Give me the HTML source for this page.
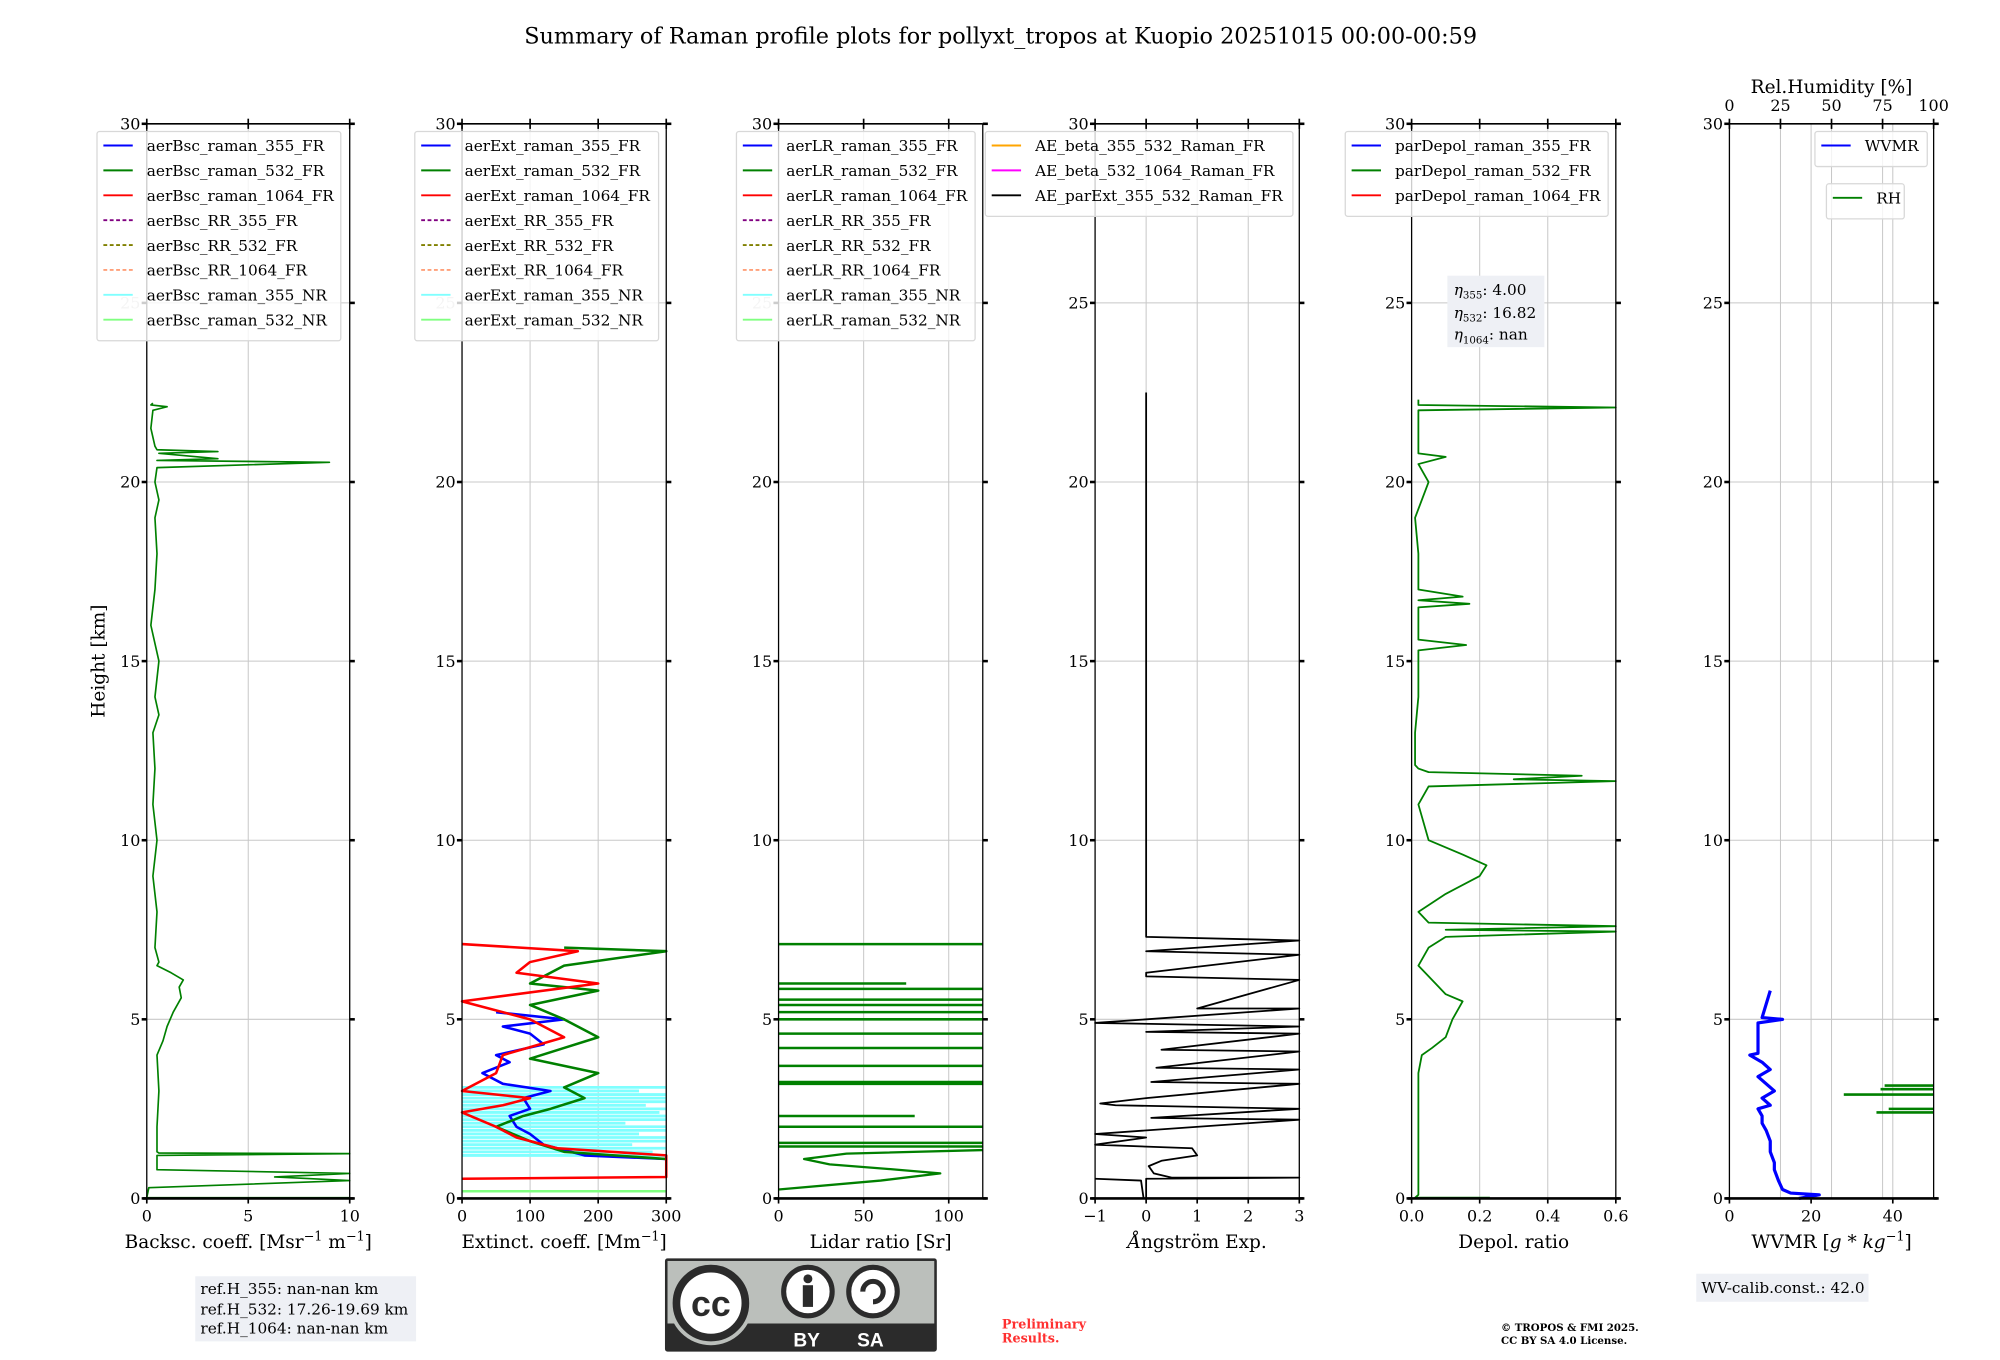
<!DOCTYPE html>
<html><head><meta charset="utf-8"><style>
html,body{margin:0;padding:0;background:#fff;}
svg{display:block;font-family:"DejaVu Serif","Liberation Serif",serif;}
</style></head><body>
<svg id="fig" width="2000" height="1360" viewBox="0 0 1567 1065.6" preserveAspectRatio="none" xmlns="http://www.w3.org/2000/svg">
<rect width="1567" height="1066" fill="#fff"/>
<text x="784" y="34" font-size="17.5" text-anchor="middle">Summary of Raman profile plots for pollyxt_tropos at Kuopio 20251015 00:00-00:59</text>
<text x="0" y="0" font-size="14.5" text-anchor="middle" transform="translate(82,518) rotate(-90)">Height [km]</text>
<g id="plots"></g>
<rect x="1134" y="216" width="76" height="56" fill="#eef0f5"/>
<text x="1139" y="231" font-size="12"><tspan font-style="italic">η</tspan><tspan font-size="8" dy="3">355</tspan><tspan dy="-3">: 4.00</tspan></text>
<text x="1139" y="249" font-size="12"><tspan font-style="italic">η</tspan><tspan font-size="8" dy="3">532</tspan><tspan dy="-3">: 16.82</tspan></text>
<text x="1139" y="266" font-size="12"><tspan font-style="italic">η</tspan><tspan font-size="8" dy="3">1064</tspan><tspan dy="-3">: nan</tspan></text>
<rect x="153" y="1000" width="173" height="51" fill="#eef0f5"/>
<text x="157" y="1014" font-size="12">ref.H_355: nan-nan km</text>
<text x="157" y="1030" font-size="12">ref.H_532: 17.26-19.69 km</text>
<text x="157" y="1045" font-size="12">ref.H_1064: nan-nan km</text>
<rect x="1329" y="998" width="135" height="22" fill="#eef0f5"/>
<text x="1333" y="1013" font-size="12">WV-calib.const.: 42.0</text>
<g>
<rect x="521" y="986" width="213" height="73" rx="2" fill="#2b2b2b"/>
<rect x="523" y="988" width="209" height="49" fill="#bbbfbb"/>
<circle cx="557" cy="1021" r="33" fill="#bbbfbb"/>
<circle cx="557" cy="1021" r="27" fill="#fff" stroke="#2b2b2b" stroke-width="6"/>
<text x="557" y="1031" font-size="28" font-weight="bold" text-anchor="middle" font-family="Liberation Sans,sans-serif" fill="#2b2b2b">cc</text>
<circle cx="633" cy="1012" r="19" fill="#fff" stroke="#2b2b2b" stroke-width="4"/>
<circle cx="633" cy="1002" r="3.5" fill="#2b2b2b"/>
<rect x="629" y="1007" width="8" height="17" fill="#2b2b2b"/>
<circle cx="684" cy="1012" r="19" fill="#fff" stroke="#2b2b2b" stroke-width="4"/>
<path d="M676 1012 A8 8 0 1 1 684 1020" fill="none" stroke="#2b2b2b" stroke-width="4"/>
<text x="632" y="1055" font-size="15" font-weight="bold" text-anchor="middle" font-family="Liberation Sans,sans-serif" fill="#fff">BY</text>
<text x="682" y="1055" font-size="15" font-weight="bold" text-anchor="middle" font-family="Liberation Sans,sans-serif" fill="#fff">SA</text>
</g>
<text x="785" y="1041" font-size="10" font-weight="bold" fill="#ff3030">Preliminary</text>
<text x="785" y="1052" font-size="10" font-weight="bold" fill="#ff3030">Results.</text>
<text x="1176" y="1043" font-size="8" font-weight="bold">© TROPOS &amp; FMI 2025.</text>
<text x="1176" y="1053" font-size="8" font-weight="bold">CC BY SA 4.0 License.</text>
</svg>
<script>
// ---- data ----
const heightTicks = [0,5,10,15,20,25,30];
const bscTicks = [0,5,10];
const extTicks = [0,100,200,300];
const lrTicks = [0,50,100];
const aeTicks = [-1,0,1,2,3];
const depTicks = [0.0,0.2,0.4,0.6];
const depTickLabels = ["0.0","0.2","0.4","0.6"];
const wvTicks = [0,20,40];
const rhTicks = [0,25,50,75,100];

const bsc532H = [0.02,0.02,0.3,0.5,0.6,0.7,0.8,1.2,1.25,1.27,1.3,2,3,4,4.4,4.8,5.2,5.6,5.9,6.1,6.3,6.5,6.6,7,8,9,10,11,12,13,13.5,14,15,16,17,18,19,19.5,20,20.4,20.55,20.6,20.65,20.8,20.85,20.9,21,21.5,22,22.1,22.15,22.2];
const bsc532V = [10,0,0.1,10,6.3,10,0.5,0.5,10,0.6,0.5,0.5,0.6,0.5,0.8,1.0,1.3,1.7,1.6,1.8,1.2,0.5,0.6,0.4,0.5,0.3,0.5,0.3,0.4,0.3,0.6,0.4,0.6,0.2,0.4,0.5,0.4,0.6,0.4,0.5,9.0,0.5,3.5,0.6,3.5,0.5,0.4,0.2,0.3,1.0,0.2,0.3];

const ext355H = [1.1,1.2,1.5,1.8,2.0,2.3,2.5,2.8,3.0,3.2,3.5,3.8,4.0,4.3,4.6,4.8,5.0,5.2];
const ext355V = [300,180,120,100,80,70,100,90,130,60,30,70,50,120,100,60,150,50];
const ext532H = [1.1,1.3,1.6,2.0,2.3,2.5,2.8,3.1,3.5,3.9,4.2,4.5,5.0,5.4,5.8,6.0,6.5,6.9,7.0];
const ext532V = [300,150,100,50,90,130,180,150,200,100,150,200,150,100,200,100,150,300,150];
const ext1064H = [0.55,0.6,1.2,1.4,1.7,2.0,2.4,2.6,2.8,3.0,3.5,4.0,4.5,5.0,5.5,6.0,6.3,6.6,6.9,7.1];
const ext1064V = [0,300,300,140,80,50,0,60,100,0,50,60,150,100,0,200,80,100,170,0];
const ext355NRH = [1.2,1.3,1.4,1.5,1.6,1.7,1.8,1.9,2.0,2.1,2.2,2.3,2.4,2.5,2.6,2.7,2.8,2.9,3.0,3.1];
const ext355NRV = [300,280,300,250,300,300,260,300,300,240,300,300,290,300,270,300,300,300,260,300];
const ext532NRH = [0.2];
const ext532NRV = [300];

const lrCurveH = [0.25,0.5,0.7,0.8,0.95,1.1,1.25,1.35];
const lrCurveV = [0,60,95,70,30,15,40,120];
const lrSpikeH = [1.45,1.55,2.0,2.3,3.2,3.25,3.7,4.2,4.6,5.0,5.2,5.4,5.55,5.85,6.0,7.1];
const lrSpikeV = [120,120,120,80,120,120,120,120,120,120,120,120,120,120,75,120];

const aeH = [0,0.55,0.58,0.58,0.7,0.9,1.05,1.2,1.4,1.5,1.7,1.8,2.2,2.25,2.5,2.6,2.65,2.75,2.8,3.2,3.25,3.6,3.65,4.1,4.15,4.6,4.65,4.8,4.9,5.3,5.3,6.1,6.2,6.3,6.8,6.9,7.2,7.3,22.5];
const aeV = [0,0,3,0.5,0.15,0.05,0.3,1.0,0.9,-1,0,-1,3,0.1,3,-0.6,-0.9,-0.3,0,3,0.1,3,0.2,3,0.3,3,0,3,-1,3,1,3,0,0,3,0,3,0,0];
const aeLowH = [0.55,0.5,0];
const aeLowV = [-1,-0.1,-0.05];

const depH = [0.02,0.02,0.1,1,2,3,3.5,4.0,4.2,4.5,5.0,5.5,5.7,6.0,6.5,7.0,7.3,7.45,7.5,7.6,7.7,8.0,8.5,9.0,9.3,9.6,10,11,11.5,11.65,11.7,11.8,11.9,12,12.1,13,14,15.3,15.45,15.6,16.5,16.6,16.7,16.8,17,18,19,20,20.5,20.7,20.8,21,22.0,22.08,22.15,22.3];
const depV = [0.23,0.01,0.02,0.02,0.02,0.02,0.02,0.03,0.06,0.1,0.12,0.15,0.1,0.07,0.02,0.05,0.1,0.6,0.1,0.6,0.05,0.02,0.1,0.2,0.22,0.15,0.05,0.02,0.05,0.6,0.3,0.5,0.05,0.02,0.01,0.01,0.02,0.02,0.16,0.02,0.02,0.17,0.02,0.15,0.02,0.02,0.01,0.05,0.02,0.1,0.02,0.02,0.02,0.6,0.02,0.02];

const wvH = [0.0,0.1,0.15,0.25,0.5,0.8,1.0,1.3,1.6,1.9,2.1,2.3,2.5,2.6,2.8,3.0,3.2,3.4,3.6,3.8,4.0,4.05,4.9,5.0,5.05,5.8];
const wvV = [17,22,15,13,12,11,11,10,10,9,8,8,7,10,8,11,9,7,10,8,5,7,7,13,8,10];
const rhH = [2.4,2.45,2.5,2.55,2.9,3.0,3.05,3.1,3.15,3.25,3.4];
const rhV = [72,100,78,100,56,100,74,100,76,100,100];

// ---- layout ----
const NS="http://www.w3.org/2000/svg";
const g=document.getElementById('plots');
const Y0=939, KM=(939-97)/30;
function yS(h){return Y0-h*KM;}
function mk(tag,a,parent){const e=document.createElementNS(NS,tag);for(const k in a)e.setAttribute(k,a[k]);(parent||g).appendChild(e);return e;}
const panels=[
 {x0:115,x1:274,min:0,max:10,ticks:bscTicks,labels:bscTicks.map(String),xl:'Backsc. coeff. [Msr<tspan font-size="10" dy="-6">−1</tspan><tspan dy="6"> m</tspan><tspan font-size="10" dy="-6">−1</tspan><tspan dy="6">]</tspan>',name:'backscatter'},
 {x0:362,x1:522,min:0,max:300,ticks:extTicks,labels:extTicks.map(String),xl:'Extinct. coeff. [Mm<tspan font-size="10" dy="-6">−1</tspan><tspan dy="6">]</tspan>',name:'extinction'},
 {x0:610,x1:770,min:0,max:120,ticks:lrTicks,labels:lrTicks.map(String),xl:'Lidar ratio [Sr]',name:'lidar-ratio'},
 {x0:858,x1:1018,min:-1,max:3,ticks:aeTicks,labels:aeTicks.map(v=>v<0?'−'+(-v):String(v)),xl:'<tspan font-style="italic">Å</tspan>ngström Exp.',name:'angstrom'},
 {x0:1106,x1:1266,min:0,max:0.6,ticks:depTicks,labels:depTickLabels,xl:'Depol. ratio',name:'depol'},
 {x0:1355,x1:1515,min:0,max:50,ticks:wvTicks,labels:wvTicks.map(String),xl:'WVMR [<tspan font-style="italic">g</tspan> * <tspan font-style="italic">kg</tspan><tspan font-size="10" dy="-6">−1</tspan><tspan dy="6">]</tspan>',name:'wvmr'}
];
function xS(p,v){return p.x0+(v-p.min)/(p.max-p.min)*(p.x1-p.x0);}
function clipV(p,v){return Math.max(p.min,Math.min(p.max,v));}
function line(p,H,V,color,w,name){
  let d='';for(let i=0;i<H.length;i++){d+=(i?'L':'M')+xS(p,clipV(p,V[i])).toFixed(1)+' '+yS(H[i]).toFixed(1);}
  const e=mk('path',{d:d,fill:'none',stroke:color,'stroke-width':w,'stroke-linejoin':'round'});
  
  
  return e;
}
function hbars(p,H,V,base,color,w,name){
  for(let i=0;i<H.length;i++){
    const e=mk('line',{x1:xS(p,base),x2:xS(p,clipV(p,V[i])),y1:yS(H[i]),y2:yS(H[i]),stroke:color,'stroke-width':w});
    
    
  }
}
panels.forEach((p,pi)=>{
  const ax=mk('g',{});
  
  
  p.ticks.forEach(t=>{mk('line',{x1:xS(p,t),x2:xS(p,t),y1:97,y2:939,stroke:'#c8c8c8','stroke-width':0.8},ax);});
  heightTicks.forEach(h=>{mk('line',{x1:p.x0,x2:p.x1,y1:yS(h),y2:yS(h),stroke:'#c8c8c8','stroke-width':0.8},ax);});
  if(pi==5) rhTicks.forEach(t=>{const x=p.x0+t/100*(p.x1-p.x0);mk('line',{x1:x,x2:x,y1:97,y2:939,stroke:'#c8c8c8','stroke-width':0.8},ax);});
});
const P=panels;
line(P[0],bsc532H,bsc532V,'#008000',1.3,'bsc-532-fr-line');
hbars(P[1],ext355NRH,ext355NRV,0,'#80ffff',2.2,'ext-355-nr-line');
hbars(P[1],ext532NRH,ext532NRV,0,'#80ff80',2,'ext-532-nr-line');
line(P[1],ext355H,ext355V,'#0000ff',2,'ext-355-fr-line');
line(P[1],ext532H,ext532V,'#008000',2,'ext-532-fr-line');
line(P[1],ext1064H,ext1064V,'#ff0000',2,'ext-1064-fr-line');
line(P[2],lrCurveH,lrCurveV,'#008000',1.8,'lr-532-fr-line');
hbars(P[2],lrSpikeH,lrSpikeV,0,'#008000',2,'lr-532-fr-spike');
line(P[3],aeH,aeV,'#000',1.4,'ae-parext-355-532-line');
line(P[3],aeLowH,aeLowV,'#000',1.4,'ae-parext-low-line');
line(P[4],depH,depV,'#008000',1.4,'pardepol-532-line');
line(P[5],wvH,wvV,'#0000ff',2.5,'wvmr-line');
hbars(P[5],rhH,rhV.map(v=>v/2),50,'#008000',2,'rh-line');
panels.forEach((p,pi)=>{
  const s=mk('g',{});
  
  
  mk('line',{x1:p.x0,x2:p.x0,y1:97,y2:939,stroke:'#000','stroke-width':1},s);
  mk('line',{x1:p.x1,x2:p.x1,y1:97,y2:939,stroke:'#000','stroke-width':1},s);
  mk('line',{x1:p.x0,x2:p.x1,y1:97,y2:97,stroke:'#000','stroke-width':1.2},s);
  mk('line',{x1:p.x0-3,x2:p.x1+3,y1:939,y2:939,stroke:'#000','stroke-width':2},s);
  heightTicks.forEach(h=>{
    mk('line',{x1:p.x0-4,x2:p.x0,y1:yS(h),y2:yS(h),stroke:'#000','stroke-width':2},s);
    mk('line',{x1:p.x1,x2:p.x1+4,y1:yS(h),y2:yS(h),stroke:'#000','stroke-width':2},s);
    const t=mk('text',{x:p.x0-5,y:yS(h)+4.5,'font-size':12.5,'text-anchor':'end',fill:(h==25&&pi<3)?'#c8c8c8':'#000'},s);
    t.textContent=String(h);
  });
  const topT = pi==5 ? rhTicks.map(t=>p.x0+t/100*(p.x1-p.x0)) : p.ticks.map(t=>xS(p,t));
  topT.forEach(x=>{mk('line',{x1:x,x2:x,y1:93,y2:101,stroke:'#000','stroke-width':1.3},s);});
  p.ticks.forEach((t,i)=>{
    const x=xS(p,t);
    mk('line',{x1:x,x2:x,y1:939,y2:943,stroke:'#000','stroke-width':1.3},s);
    const tl=mk('text',{x:x,y:957,'font-size':12.5,'text-anchor':'middle'},s);
    tl.textContent=p.labels[i];
  });
  const xl=mk('text',{x:(p.x0+p.x1)/2,y:978,'font-size':14.5,'text-anchor':'middle'},s);
  xl.innerHTML=p.xl;
});
rhTicks.forEach(t=>{
  const x=1355+t/100*160;
  const e=mk('text',{x:x,y:87,'font-size':12.5,'text-anchor':'middle'});
  
  
  e.textContent=String(t);
});
const rht=mk('text',{x:1435,y:73,'font-size':14.5,'text-anchor':'middle'});


rht.textContent='Rel.Humidity [%]';
const legendNames1=['aerBsc_raman_355_FR','aerBsc_raman_532_FR','aerBsc_raman_1064_FR','aerBsc_RR_355_FR','aerBsc_RR_532_FR','aerBsc_RR_1064_FR','aerBsc_raman_355_NR','aerBsc_raman_532_NR'];
const legendNames2=legendNames1.map(s=>s.replace('aerBsc','aerExt'));
const legendNames3=legendNames1.map(s=>s.replace('aerBsc','aerLR'));
const legendColors8=['#0000ff','#008000','#ff0000','#800080','#808000','#ffa07a','#80ffff','#80ff80'];
const legendDash8=[0,0,0,1,1,1,0,0];
const legendNames4=['AE_beta_355_532_Raman_FR','AE_beta_532_1064_Raman_FR','AE_parExt_355_532_Raman_FR'];
const legendColors4=['#ffa500','#ff00ff','#000000'];
const legendNames5=['parDepol_raman_355_FR','parDepol_raman_532_FR','parDepol_raman_1064_FR'];
const legendColors5=['#0000ff','#008000','#ff0000'];
function legend(x,y,w,names,colors,dash,name){
  const L=mk('g',{});
  
  
  mk('rect',{x:x,y:y,width:w,height:names.length*19.5+8,rx:2,fill:'#fff','fill-opacity':0.8,stroke:'#d8d8d8','stroke-width':1},L);
  names.forEach((n,i)=>{
    const yy=y+11+i*19.5;
    const a={x1:x+5,x2:x+28,y1:yy,y2:yy,stroke:colors[i],'stroke-width':1.5};
    if(dash&&dash[i])a['stroke-dasharray']='3,2';
    mk('line',a,L);
    const t=mk('text',{x:x+39,y:yy+4.5,'font-size':12},L);
    t.textContent=n;
  });
}
legend(76,103,191,legendNames1,legendColors8,legendDash8,'backscatter-legend');
legend(325,103,191,legendNames2,legendColors8,legendDash8,'extinction-legend');
legend(577,103,187,legendNames3,legendColors8,legendDash8,'lidar-ratio-legend');
legend(772,103,241,legendNames4,legendColors4,null,'angstrom-legend');
legend(1054,103,206,legendNames5,legendColors5,null,'depol-legend');
legend(1422,103,88,['WVMR'],['#0000ff'],null,'wvmr-legend');
legend(1431,144,61,['RH'],['#008000'],null,'rh-legend');
</script>
</body></html>
